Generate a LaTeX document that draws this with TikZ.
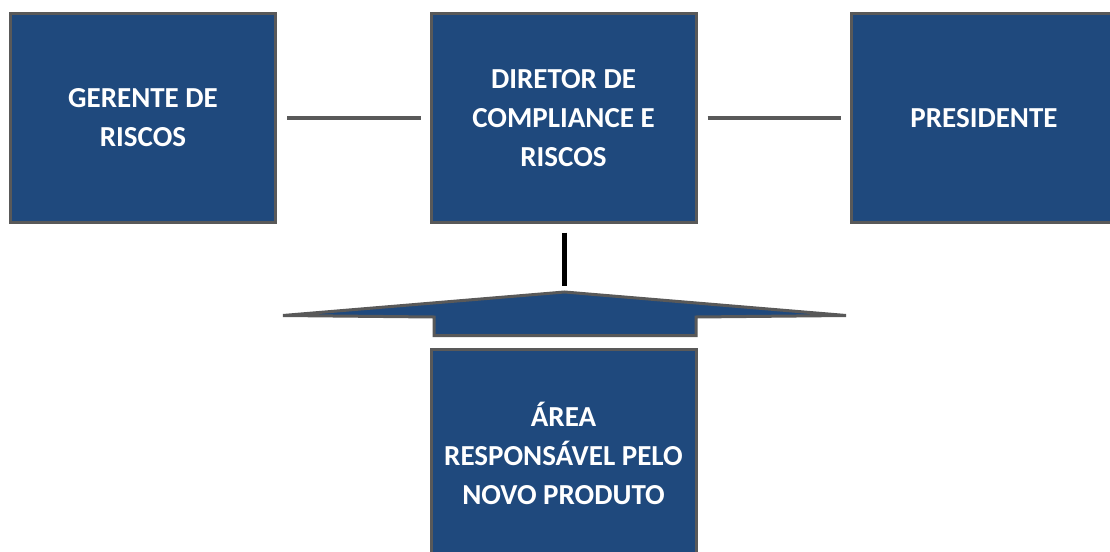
\documentclass[tikz,border=0pt]{standalone}
\usepackage{fontspec}
\setmainfont{Carlito}
\definecolor{boxblue}{HTML}{1F497D}
\definecolor{edgegray}{HTML}{595959}
\tikzset{
  orgbox/.style={draw=edgegray, line width=3pt, fill=boxblue, text=white,
    minimum width=265pt, minimum height=208pt, inner sep=0pt, align=center,
    font=\fontsize{29}{39}\selectfont\bfseries},
  link/.style={draw=edgegray, line width=4.5pt},
  blackbar/.style={draw=black, line width=5pt},
  bracketshape/.style={draw=edgegray, line width=3pt, fill=boxblue, line join=miter}
}
\begin{document}
\begin{tikzpicture}[x=1pt,y=-1pt]
\clip (0,0) rectangle (1110,551);
\fill[white] (0,0) rectangle (1110,551);
\node[orgbox] (g) at (143,118) {GERENTE DE\\RISCOS};
\node[orgbox] (d) at (563.5,118) {DIRETOR DE\\COMPLIANCE E\\RISCOS};
\node[orgbox] (p) at (984,118) {PRESIDENTE};
\node[orgbox] (a) at (563.5,453) {ÁREA\\RESPONSÁVEL PELO\\NOVO PRODUTO};
\draw[link] ([xshift=10pt]g.east) -- ([xshift=-9pt]d.west);
\draw[link] ([xshift=10pt]d.east) -- ([xshift=-9pt]p.west);
\coordinate (peak) at (564.5,292);
\draw[bracketshape] (283,315.5) -- (peak) -- (846,315.5) -- (696,317) -- (696,335.5) -- (434,335.5) -- (434,317) -- cycle;
\draw[blackbar] ([yshift=-9pt]d.south -| peak) -- ([yshift=6pt]peak);
\end{tikzpicture}
\end{document}
